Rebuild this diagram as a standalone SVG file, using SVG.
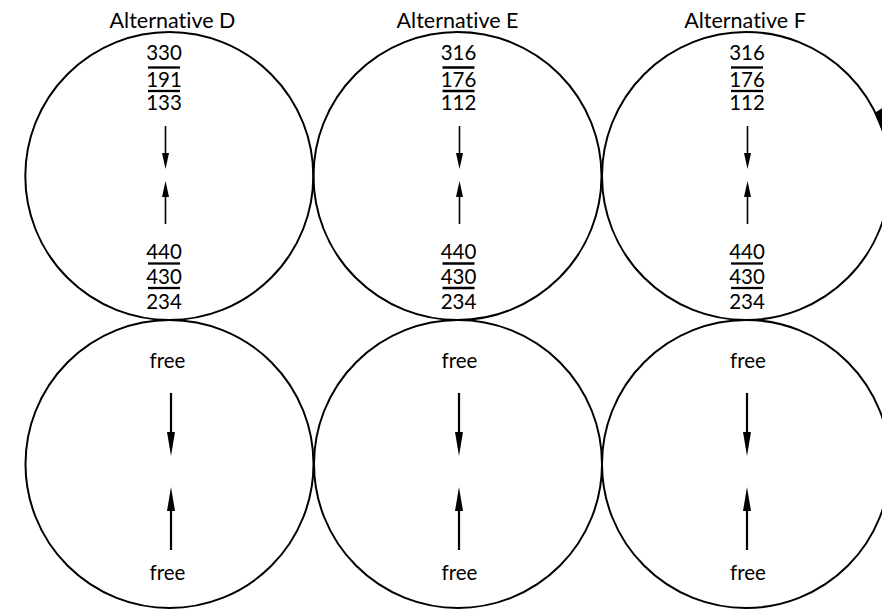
<svg xmlns="http://www.w3.org/2000/svg" width="882" height="614" viewBox="0 0 882 614">
  <style>
    text { font-family: Lato, "Open Sans", sans-serif; fill: #000; text-anchor: middle; font-variant-ligatures: none; font-feature-settings: "liga" 0; }
    .ring { fill: none; stroke: #000; stroke-width: 2; }
    .title { font-size: 21.5px; }
    .num { font-size: 20.5px; }
    .word { font-size: 20.5px; }
    .bar { stroke: #000; stroke-width: 2.3; }
    .thin { stroke: #000; stroke-width: 1.6; fill: none; marker-end: url(#headS); }
    .thick { stroke: #000; stroke-width: 2.2; fill: none; marker-end: url(#headL); }
  </style>
  <defs>
    <marker id="headS" markerUnits="userSpaceOnUse" viewBox="0 0 16 7" markerWidth="16" markerHeight="7" refX="9" refY="3.5" orient="auto">
      <path d="M0,0 L16,3.5 L0,7 Z" fill="#000"/>
    </marker>
    <marker id="headL" markerUnits="userSpaceOnUse" viewBox="0 0 24 8" markerWidth="24" markerHeight="8" refX="16" refY="4" orient="auto">
      <path d="M0,0 L24,4 L0,8 Z" fill="#000"/>
    </marker>
  </defs>
  <rect width="882" height="614" fill="#fff"/>

  <g id="titles">
    <text class="title" x="172.5" y="27.5">Alternative D</text>
    <text class="title" x="457.5" y="27.5">Alternative E</text>
    <text class="title" x="745" y="27.5">Alternative F</text>
  </g>

  <!-- upper row: load figures -->
  <g id="upper-D">
    <circle class="ring" cx="169.3" cy="176" r="144"/>
    <text class="num" x="164" y="60">330</text>
    <line class="bar" x1="148" y1="67.5" x2="180" y2="67.5"/>
    <text class="num" x="164" y="86.5">191</text>
    <line class="bar" x1="148" y1="91" x2="180" y2="91"/>
    <text class="num" x="164" y="110">133</text>
    <text class="num" x="164" y="258.5">440</text>
    <line class="bar" x1="148" y1="263.5" x2="180" y2="263.5"/>
    <text class="num" x="164" y="283.5">430</text>
    <line class="bar" x1="148" y1="288" x2="180" y2="288"/>
    <text class="num" x="164" y="308.5">234</text>
  </g>
  <g id="upper-E">
    <circle class="ring" cx="457.5" cy="176" r="144"/>
    <text class="num" x="458.5" y="60">316</text>
    <line class="bar" x1="442.5" y1="67.5" x2="474.5" y2="67.5"/>
    <text class="num" x="458.5" y="86.5">176</text>
    <line class="bar" x1="442.5" y1="91" x2="474.5" y2="91"/>
    <text class="num" x="458.5" y="110">112</text>
    <text class="num" x="458.5" y="258.5">440</text>
    <line class="bar" x1="442.5" y1="263.5" x2="474.5" y2="263.5"/>
    <text class="num" x="458.5" y="283.5">430</text>
    <line class="bar" x1="442.5" y1="288" x2="474.5" y2="288"/>
    <text class="num" x="458.5" y="308.5">234</text>
  </g>
  <g id="upper-F">
    <circle class="ring" cx="746" cy="176" r="144"/>
    <text class="num" x="747" y="60">316</text>
    <line class="bar" x1="731" y1="67.5" x2="763" y2="67.5"/>
    <text class="num" x="747" y="86.5">176</text>
    <line class="bar" x1="731" y1="91" x2="763" y2="91"/>
    <text class="num" x="747" y="110">112</text>
    <text class="num" x="747" y="258.5">440</text>
    <line class="bar" x1="731" y1="263.5" x2="763" y2="263.5"/>
    <text class="num" x="747" y="283.5">430</text>
    <line class="bar" x1="731" y1="288" x2="763" y2="288"/>
    <text class="num" x="747" y="308.5">234</text>
    <!-- arrowhead of the rotation mark on the outer rim, running off the edge -->
    <path d="M874.5,113 L884,107 L882,131 Z" fill="#000"/>
  </g>

  <!-- lower row: free ends -->
  <g id="lower-D">
    <circle class="ring" cx="169.5" cy="464" r="144"/>
    <text class="word" x="167.5" y="368">free</text>
    <text class="word" x="167.5" y="580">free</text>
  </g>
  <g id="lower-E">
    <circle class="ring" cx="458" cy="464" r="144"/>
    <text class="word" x="459.5" y="368">free</text>
    <text class="word" x="459.5" y="580">free</text>
  </g>
  <g id="lower-F">
    <circle class="ring" cx="746" cy="464" r="144"/>
    <text class="word" x="748" y="368">free</text>
    <text class="word" x="748" y="580">free</text>
  </g>

  <g id="connectors">
    <!-- upper row: short arrows meeting at the centre -->
    <line class="thin" x1="165.5" y1="126" x2="165.5" y2="162"/>
    <line class="thin" x1="165.5" y1="224" x2="165.5" y2="188"/>
    <line class="thin" x1="459.5" y1="126" x2="459.5" y2="162"/>
    <line class="thin" x1="459.5" y1="224" x2="459.5" y2="188"/>
    <line class="thin" x1="747.5" y1="126" x2="747.5" y2="162"/>
    <line class="thin" x1="747.5" y1="224" x2="747.5" y2="188"/>
    <!-- lower row: long arrows -->
    <line class="thick" x1="171" y1="393" x2="171" y2="448"/>
    <line class="thick" x1="171" y1="550" x2="171" y2="495"/>
    <line class="thick" x1="459" y1="393" x2="459" y2="448"/>
    <line class="thick" x1="459" y1="550" x2="459" y2="495"/>
    <line class="thick" x1="747" y1="393" x2="747" y2="448"/>
    <line class="thick" x1="747" y1="550" x2="747" y2="495"/>
  </g>
</svg>
